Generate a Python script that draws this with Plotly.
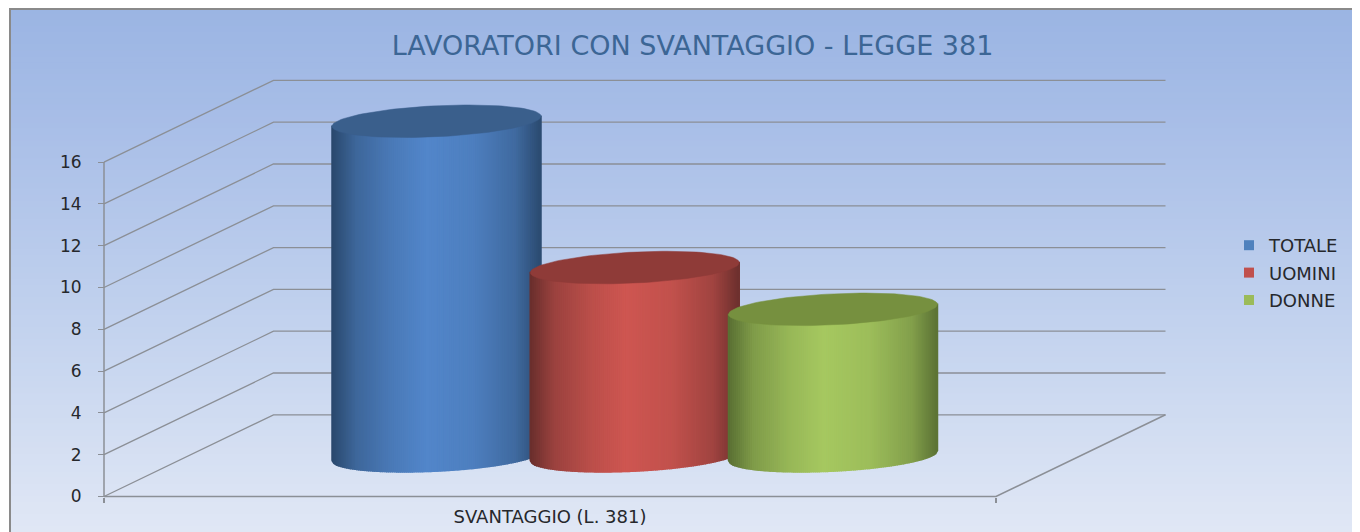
import math
import plotly.graph_objects as go

TITLE = "LAVORATORI CON SVANTAGGIO - LEGGE 381"
CATEGORY = "SVANTAGGIO (L. 381)"
SERIES_NAMES = ["TOTALE", "UOMINI", "DONNE"]
SERIES_VALUES = [16, 9, 7]
Y_TICKS = [0, 2, 4, 6, 8, 10, 12, 14, 16]

LEGEND_COLORS = ["#4f81bd", "#c0504d", "#9bbb59"]
LIGHT_COLORS = [(82, 134, 202), (206, 86, 81), (166, 200, 96)]
EDGE_COLORS = [(42, 72, 108), (104, 46, 44), (88, 110, 50)]
CAP_COLORS = ["#3a5f8c", "#8f3b38", "#76903f"]

PAGE_W, PAGE_H = 1360, 532
OFF = 8                    # page margin around the figure
W, H = PAGE_W - OFF, PAGE_H - OFF
X0, X1 = 104, 996          # front floor edge on the horizontal scale
DEPTH_X = 169.5            # oblique offset of back wall
PX_PER_UNIT = 20.9
Y_ZERO_PX = 496.5
DEPTH_Y = 81.7 / PX_PER_UNIT
BAR_HALF = 104.5
BAR_STEP = 198.25
SKEW = 5 / PX_PER_UNIT
MINOR = 15.5 / PX_PER_UNIT
GRID = "#8b8f96"
STRIPS = 104


def fx(px):
    return (px - OFF) / W


def fy(py):
    return 1 - (py - OFF) / H


fig = go.Figure()

# gridlines: slanted left wall + back wall
gx, gy = [], []
for v in Y_TICKS:
    gx += [X0, X0 + DEPTH_X, X1 + DEPTH_X, None]
    gy += [v, v + DEPTH_Y, v + DEPTH_Y, None]
fig.add_trace(go.Scatter(x=gx, y=gy, mode="lines", line=dict(color=GRID, width=1.3),
                         showlegend=False, hoverinfo="skip"))
# axes frame
fig.add_trace(go.Scatter(x=[X0, X0, None, X0, X1, X1 + DEPTH_X],
                         y=[Y_TICKS[-1], 0, None, 0, 0, DEPTH_Y],
                         mode="lines", line=dict(color=GRID, width=1.5),
                         showlegend=False, hoverinfo="skip"))


def shade(t, light, edge):
    stops = [(0, 0.0), (0.12, 0.50), (0.30, 0.82), (0.46, 1.0), (0.68, 0.88), (0.88, 0.55), (1, 0.05)]
    for (a, fa), (b, fb) in zip(stops, stops[1:]):
        if t <= b:
            f = fa + (fb - fa) * (t - a) / (b - a)
            break
    return "rgb(%d,%d,%d)" % tuple(round(e + (l - e) * f) for l, e in zip(light, edge))


center0 = (X0 + X1) / 2 + DEPTH_X / 2 - BAR_STEP
for i, (name, value) in enumerate(zip(SERIES_NAMES, SERIES_VALUES)):
    cx = center0 + i * BAR_STEP
    base = DEPTH_Y / 2
    top = value + DEPTH_Y / 2
    for s in range(STRIPS):
        c0 = -1 + 2 * s / STRIPS
        c1 = -1 + 2 * (s + 1) / STRIPS
        color = shade((s + 0.5) / STRIPS, LIGHT_COLORS[i], EDGE_COLORS[i])
        xs = [cx + BAR_HALF * c0, cx + BAR_HALF * c1, cx + BAR_HALF * c1, cx + BAR_HALF * c0]
        ys = [base + SKEW * c0 - MINOR * math.sqrt(max(0, 1 - c0 * c0)),
              base + SKEW * c1 - MINOR * math.sqrt(max(0, 1 - c1 * c1)),
              top + SKEW * c1, top + SKEW * c0]
        fig.add_trace(go.Scatter(x=xs + xs[:1], y=ys + ys[:1], mode="lines", fill="toself",
                                 fillcolor=color, line=dict(color=color, width=1.5),
                                 showlegend=False, hoverinfo="skip"))
    ts = [2 * math.pi * k / 120 for k in range(121)]
    fig.add_trace(go.Scatter(x=[cx + BAR_HALF * math.cos(t) for t in ts],
                             y=[top + SKEW * math.cos(t) + MINOR * math.sin(t) for t in ts],
                             mode="lines", fill="toself", fillcolor=CAP_COLORS[i],
                             line=dict(color=CAP_COLORS[i], width=0.5),
                             showlegend=False, hovertemplate=f"{name}: {value}<extra></extra>"))

# legend entries
for name, color in zip(SERIES_NAMES, LEGEND_COLORS):
    fig.add_trace(go.Scatter(x=[None], y=[None], mode="markers", name=name, legendgroup=name,
                             marker=dict(symbol="square", size=10, color=color)))

# background gradient
BG_STOPS = [(0, (155, 181, 227)), (0.2, (167, 189, 231)), (0.6, (194, 210, 238)), (1, (224, 231, 245))]
shapes = []
N = 87
for k in range(N):
    t = k / (N - 1)
    for (a, ca), (b, cb) in zip(BG_STOPS, BG_STOPS[1:]):
        if t <= b:
            col = tuple(round(p + (q - p) * (t - a) / (b - a)) for p, q in zip(ca, cb))
            break
    y_top = OFF + H * k / N
    y_bot = min(OFF + H * (k + 1) / N + 1, PAGE_H)
    shapes.append(dict(type="rect", xref="paper", yref="paper", layer="below",
                       x0=fx(10), x1=1, y0=fy(y_bot), y1=fy(y_top),
                       fillcolor="rgb(%d,%d,%d)" % col, line_width=0))
shapes.append(dict(type="rect", xref="paper", yref="paper", layer="below",
                   x0=fx(10), x1=1.01, y0=-0.01, y1=fy(9),
                   fillcolor="rgba(0,0,0,0)", line=dict(color="#8a8a8a", width=2)))

FONT = "DejaVu Sans"
fig.update_layout(
    width=W, height=H, autosize=False,
    margin=dict(l=0, r=0, t=0, b=0, autoexpand=False),
    paper_bgcolor="white", plot_bgcolor="rgba(0,0,0,0)",
    shapes=shapes,
    title=dict(text=TITLE, x=fx(692.5), xanchor="center", y=fy(46), yanchor="middle",
               font=dict(family=FONT, size=27, color="#3c6695")),
    xaxis=dict(range=[OFF, PAGE_W], domain=[0, 1], anchor="free", position=fy(Y_ZERO_PX),
               showgrid=False, zeroline=False, showline=False,
               tickmode="array", tickvals=[(X0 + X1) / 2], ticktext=[CATEGORY], ticks="",
               ticklabelstandoff=7,
               tickfont=dict(family=FONT, size=18, color="#26282c"),
               minor=dict(tickmode="array", tickvals=[X0, X1], ticks="outside", ticklen=5,
                          tickcolor=GRID, tickwidth=1.5, showgrid=False)),
    yaxis=dict(range=[(Y_ZERO_PX - PAGE_H) / PX_PER_UNIT, (Y_ZERO_PX - OFF) / PX_PER_UNIT],
               domain=[0, 1], anchor="free", position=fx(X0), showgrid=False, zeroline=False,
               showline=False, tickmode="array", tickvals=Y_TICKS, ticks="outside", ticklen=6,
               tickcolor=GRID, tickwidth=1.3, ticklabelstandoff=13,
               tickfont=dict(family=FONT, size=17, color="#26282c")),
    legend=dict(x=fx(1256 - 20), xanchor="left", y=fy(273), yanchor="middle",
                bgcolor="rgba(0,0,0,0)", font=dict(family=FONT, size=18, color="#26282c"),
                traceorder="grouped", tracegroupgap=1, indentation=-7),
)

fig.write_html("out.html", config=dict(displayModeBar=False))
